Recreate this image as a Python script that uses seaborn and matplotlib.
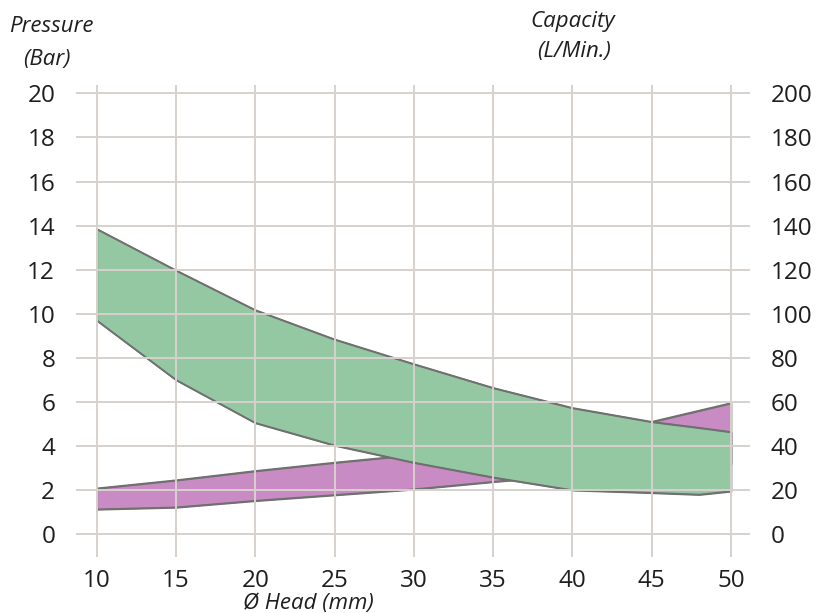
import numpy as np
import matplotlib
matplotlib.use("Agg")
import matplotlib.pyplot as plt
import seaborn as sns

# Ø head (mm)
head = [10, 15, 20, 25, 30, 35, 40, 45, 50]

# pressure band (bar) - purple
pressure_low = [1.13, 1.22, 1.52, 1.78, 2.04, 2.38, 2.70, 2.95, 3.20]
pressure_high = [2.08, 2.45, 2.87, 3.25, 3.60, 4.00, 4.40, 5.10, 5.95]

# capacity band (L/min) - green
head_cap = [10, 15, 20, 25, 30, 35, 40, 45, 48, 50]
capacity_low = [97, 70, 50.5, 40.3, 32.5, 25.8, 20.0, 18.8, 18.0, 19.5]
capacity_high = [138.5, 119.7, 101.7, 88.4, 77.2, 66.4, 57.3, 51.0, 48.3, 46.4]

x_ticks = [10, 15, 20, 25, 30, 35, 40, 45, 50]
p_ticks = [0, 2, 4, 6, 8, 10, 12, 14, 16, 18, 20]
c_ticks = [0, 20, 40, 60, 80, 100, 120, 140, 160, 180, 200]

sns.set_theme(style="white")
plt.rcParams['font.family'] = ['Open Sans', 'DejaVu Sans']

purple = "#c98bc3"
green = "#93c8a2"
edge = "#707070"
grid_col = "#d7d1cd"
txt = "#1e1e1e"

fig = plt.figure(figsize=(8.18, 6.13), dpi=100)
ax = fig.add_axes([0.0929, 0.0918, 0.824, 0.7695])
ax2 = ax.twinx()

# pressure (left axis)
ax.fill_between(head, pressure_low, pressure_high, facecolor=purple,
                edgecolor=edge, linewidth=1.2, zorder=1)
sns.lineplot(x=head, y=pressure_low, ax=ax, color=edge, linewidth=1.2, zorder=2)
sns.lineplot(x=head, y=pressure_high, ax=ax, color=edge, linewidth=1.2, zorder=2)

# capacity (right axis, drawn on top)
ax2.fill_between(head_cap, capacity_low, capacity_high, facecolor=green,
                 edgecolor=edge, linewidth=1.2, zorder=1)
sns.lineplot(x=head_cap, y=capacity_low, ax=ax2, color=edge, linewidth=1.2, zorder=2)
sns.lineplot(x=head_cap, y=capacity_high, ax=ax2, color=edge, linewidth=1.2, zorder=2)

ax.set_xlim(8.69, 51.2)
ax.set_ylim(-1.02, 20.38)
ax2.set_ylim(-10.2, 203.8)

ax.set_xticks(x_ticks)
ax.set_yticks(p_ticks)
ax2.set_yticks(c_ticks)

ax.grid(False)
ax2.xaxis.set_visible(True)
ax2.set_axisbelow(False)
ax2.grid(True, axis="both", color=grid_col, linewidth=1.4, zorder=1.5)
ax2.tick_params(axis="x", bottom=False, labelbottom=False, top=False, labeltop=False)

for a in (ax, ax2):
    for s in a.spines.values():
        s.set_visible(False)

ax.tick_params(axis="y", left=False, labelsize=17.5, pad=9, labelcolor=txt)
ax.tick_params(axis="x", bottom=False, labelsize=17.5, pad=3, labelcolor=txt)
ax2.tick_params(axis="y", right=False, labelsize=17.5, pad=9, labelcolor=txt)

lab = dict(fontsize=16, fontstyle="italic", color=txt, ha="center", va="center")
fig.text(51 / 818, 1 - 27 / 613, "Pressure", **lab)
fig.text(47 / 818, 1 - 59 / 613, "(Bar)", **lab)
fig.text(573 / 818, 1 - 22 / 613, "Capacity", **lab)
fig.text(574 / 818, 1 - 52 / 613, "(L/Min.)", **lab)
fig.text(308 / 818, 1 - 604 / 613, "Ø Head (mm)", **lab)

fig.savefig("out.png", dpi=100)
